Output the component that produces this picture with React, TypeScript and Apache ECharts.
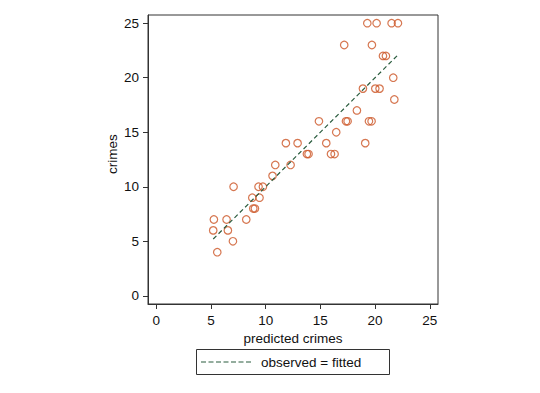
import React, { useEffect, useRef } from "react";
import * as echarts from "echarts";

const predicted: number[] = [
  19.29, 20.14, 21.51, 22.09,
  17.18, 19.71,
  20.72, 20.99,
  21.66,
  18.89, 20.02, 20.41,
  21.76,
  18.34,
  14.87, 17.34, 17.49, 19.44, 19.68,
  16.45,
  11.85, 12.92, 15.54, 19.1,
  13.77, 13.92, 15.97, 16.3,
  10.88, 12.28,
  10.63,
  7.07, 9.35, 9.75,
  8.78, 9.44,
  8.87, 9.02,
  5.27, 6.43, 8.23,
  5.21, 6.55,
  7.01,
  5.58,
];
const observed: number[] = [
  25, 25, 25, 25,
  23, 23,
  22, 22,
  20,
  19, 19, 19,
  18,
  17,
  16, 16, 16, 16, 16,
  15,
  14, 14, 14, 14,
  13, 13, 13, 13,
  12, 12,
  11,
  10, 10, 10,
  9, 9,
  8, 8,
  7, 7, 7,
  6, 6,
  5,
  4,
];
const tickValues: number[] = [0, 5, 10, 15, 20, 25];
const xTitle = "predicted crimes";
const yTitle = "crimes";
const legendLabel = "observed = fitted";

const FONT = "'Liberation Sans', Arial, sans-serif";
const FS = 13.5;
const TEXT = "#111111";
const MARKER = "#cc5526";
const FITLINE = "#2a5c3e";

export default function App() {
  const ref = useRef<HTMLDivElement>(null);
  useEffect(() => {
    if (!ref.current) return;
    const chart = echarts.init(ref.current, undefined, { renderer: "svg" });
    const points = predicted.map((p, i) => [p, observed[i]]);
    const lo = Math.min(...predicted);
    const hi = Math.max(...predicted);
    const axisCommon = {
      type: "value" as const,
      min: -0.75,
      max: 25.75,
      splitLine: { show: false },
      axisLine: { show: true, onZero: false, lineStyle: { color: "#333", width: 1 } },
      axisTick: {
        show: true,
        inside: false,
        length: 5,
        customValues: tickValues,
        lineStyle: { color: "#333", width: 1 },
      },
      axisLabel: {
        show: true,
        margin: 9,
        customValues: tickValues,
        color: TEXT,
        fontFamily: FONT,
        fontSize: FS,
      },
    };
    chart.setOption({
      animation: false,
      backgroundColor: "#ffffff",
      grid: {
        left: 148,
        top: 15,
        width: 290,
        height: 289,
        show: true,
        borderColor: "#333",
        borderWidth: 1,
        backgroundColor: "#ffffff",
      },
      xAxis: {
        ...axisCommon,
        name: xTitle,
        nameLocation: "middle",
        nameGap: 24,
        nameTextStyle: { color: TEXT, fontFamily: FONT, fontSize: FS },
      },
      yAxis: {
        ...axisCommon,
      },
      series: [
        {
          type: "scatter",
          data: points,
          symbol: "circle",
          symbolSize: 7.5,
          itemStyle: { color: "rgba(0,0,0,0)", borderColor: MARKER, borderWidth: 1.2 },
          z: 2,
        },
        {
          type: "line",
          name: legendLabel,
          data: [
            [lo, lo],
            [hi, hi],
          ],
          showSymbol: false,
          symbol: "none",
          lineStyle: { color: FITLINE, width: 1.2, type: [4.5, 3] },
          z: 3,
        },
      ],
      graphic: [
        {
          type: "text",
          x: 112,
          y: 154,
          rotation: Math.PI / 2,
          style: {
            text: yTitle,
            fill: TEXT,
            font: `${FS}px ${FONT}`,
            align: "center",
            verticalAlign: "middle",
          },
        },
        {
          type: "rect",
          shape: { x: 196.5, y: 349.5, width: 193, height: 25 },
          style: { fill: "#ffffff", stroke: "#333", lineWidth: 1 },
        },
        {
          type: "line",
          shape: { x1: 201, y1: 362, x2: 253, y2: 362 },
          style: { stroke: FITLINE, lineWidth: 1.2, lineDash: [5, 2.5] },
        },
        {
          type: "text",
          x: 261,
          y: 362,
          style: {
            text: legendLabel,
            fill: TEXT,
            font: `${FS}px ${FONT}`,
            align: "left",
            verticalAlign: "middle",
          },
        },
      ],
    });
    return () => chart.dispose();
  }, []);
  return <div ref={ref} style={{ width: 540, height: 393, margin: -8 }} />;
}
